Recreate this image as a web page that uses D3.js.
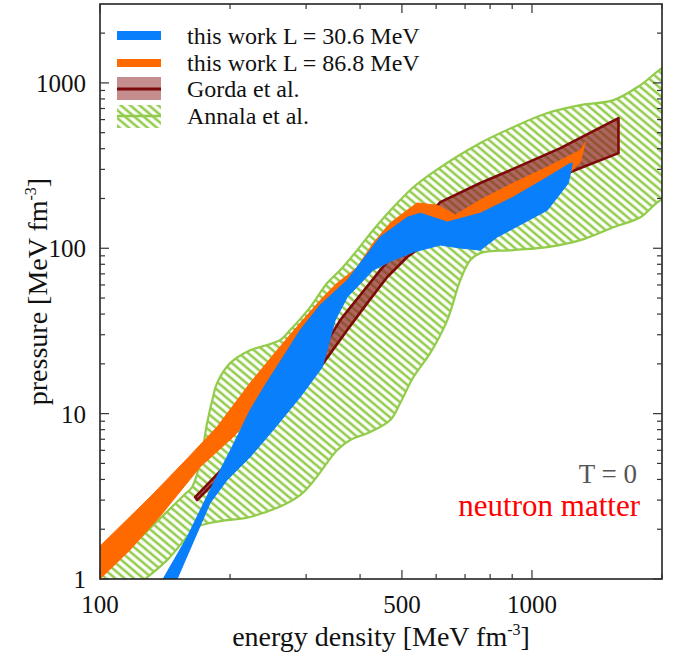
<!DOCTYPE html>
<html>
<head>
<meta charset="utf-8">
<script src="https://cdn.jsdelivr.net/npm/d3@7"></script>
<style>
  body { margin: 0; background: #fff; }
  svg { display: block; }
  text { font-family: "Liberation Serif", "Times New Roman", serif; }
</style>
</head>
<body>
<svg id="chart" width="683" height="655"></svg>
<script>
// Equation-of-state bands: [energy density (MeV fm^-3), pressure (MeV fm^-3)]

// Annala et al. band (closed outline)
const annalaBand = [
  [97, 0.97], [100, 1.03], [123.8, 1.77], [155.7, 3.18], [163.4, 3.60], [170.4, 5.03],
  [177.0, 8.77], [182.7, 12.6], [186.6, 15.3], [200.1, 20.2], [222.6, 24.2], [243.8, 26.0],
  [261.3, 27.9], [275.5, 32.0], [306.6, 44.1], [335.7, 61.6], [359.9, 73.8], [394.0, 97.5],
  [429.1, 129], [477.4, 177], [531.2, 234], [591.1, 289], [759.4, 433], [905.6, 540],
  [1085.6, 657], [1294.6, 734], [1544, 787], [1783, 970], [2000, 1229], [2150, 1330],
  [2150, 185], [2000, 196], [1783, 154], [1544, 134], [1294.6, 112], [1085.6, 101.7],
  [905.6, 97.5], [759.4, 93.5], [720.0, 84.9], [682.6, 64.2], [636.8, 36.8], [581.7, 23.3],
  [531.2, 16.6], [495.6, 11.6], [469.8, 9.15], [422.3, 7.74], [379.6, 6.92], [354.2, 6.03],
  [290.7, 3.22], [222.6, 2.37], [196.9, 2.27], [179.8, 2.18], [167.8, 2.06], [143.0, 1.30],
  [127.1, 1.0], [120, 0.9], [97, 0.9]
];

// Gorda et al. band (closed outline)
const gordaBand = [
  [166.0, 3.13], [222.6, 6.92], [290.7, 14.9], [359.9, 36.8], [445.4, 73.8], [522.7, 120],
  [613.6, 190], [759.4, 248], [891.2, 297], [1163.6, 403], [1586, 613],
  [1586, 376], [1227.5, 289], [940.0, 219], [720.0, 152], [581.7, 112], [514.4, 88.5],
  [462.4, 67.0], [415.6, 46.6], [373.6, 32.0], [328.7, 20.2], [290.7, 13.3], [251.7, 8.53],
  [222.6, 6.03], [200.1, 4.56], [179.8, 3.60], [167.8, 3.00]
];

// This work, L = 86.8 MeV: envelope of the EoS ensemble
const bandL868 = [
  [97.4, 1.46], [100, 1.58], [130.6, 3.13], [155.7, 5.03], [186.6, 8.30], [222.6, 15.3],
  [257.1, 24.2], [290.7, 35.3], [328.7, 50.7], [354.2, 61.6], [379.6, 70.8], [394.0, 76.9],
  [429.1, 107.5], [469.8, 142], [514.4, 170], [542.7, 188], [603.9, 182], [664.6, 159],
  [759.4, 196], [905.6, 248], [1085.6, 310], [1294.6, 392], [1329.6, 439],
  [1294.6, 332], [1227.5, 289], [1085.6, 238], [905.6, 182], [759.4, 144], [647.1, 132.5],
  [551.4, 132.5], [495.6, 115.3], [422.3, 82.5], [359.9, 50.0], [306.6, 29.9], [261.3, 14.9],
  [231.1, 10.5], [203.3, 7.22], [170.4, 4.75], [137.8, 2.40], [117.3, 1.50], [100, 1.0],
  [97.4, 0.92]
];

// This work, L = 30.6 MeV: envelope of the EoS ensemble
const bandL306 = [
  [137.8, 0.86], [140.0, 1.0], [159.1, 1.79], [179.8, 3.45], [203.3, 6.46], [222.6, 10.5],
  [241.2, 14.9], [265.5, 22.0], [290.7, 32.0], [323.4, 45.4], [373.6, 64.2], [445.4, 117],
  [514.4, 154], [551.4, 163], [636.8, 144], [759.4, 163], [905.6, 204], [1085.6, 269],
  [1227.5, 327], [1240.6, 327],
  [1214.3, 248], [1085.6, 170], [955.2, 142], [831.6, 117], [759.4, 97.5], [682.6, 100.3],
  [613.6, 104.5], [531.2, 94.8], [477.4, 84.9], [429.1, 73.8], [373.6, 50.7], [350.4, 36.8],
  [326.9, 19.1], [290.7, 12.6], [251.7, 7.96], [222.6, 5.47], [196.9, 3.97], [179.8, 2.88],
  [167.8, 1.90], [150.8, 1.0], [148.4, 0.86]
];

const xDomain = [100, 2000];
const yDomain = [1, 3000];
const xMajorTicks = [100, 500, 1000];
const xMinorTicks = [200, 300, 400, 600, 700, 800, 900, 2000];
const yMajorTicks = [1, 10, 100, 1000];
const yMinorTicks = [2, 3, 4, 5, 6, 7, 8, 9, 20, 30, 40, 50, 60, 70, 80, 90,
                     200, 300, 400, 500, 600, 700, 800, 900, 2000];

const legendLabels = ["this work L = 30.6 MeV", "this work L = 86.8 MeV", "Gorda et al.", "Annala et al."];

const colors = {
  blue: "#0a7ffb",
  orange: "#ff6a00",
  green: "#93cc4c",
  gordaLine: "#7d0a0a",
  gordaFill: "rgba(140, 28, 28, 0.68)",
  gordaLegendFill: "rgba(140, 28, 28, 0.5)"
};

const svg = d3.select("#chart");
const plot = { left: 100, right: 662, top: 4, bottom: 579 };

const x = d3.scaleLog().domain(xDomain).range([plot.left, plot.right]);
const y = d3.scaleLog().domain(yDomain).range([plot.bottom, plot.top]);

const defs = svg.append("defs");
defs.append("clipPath").attr("id", "plotClip")
  .append("rect")
  .attr("x", plot.left).attr("y", plot.top)
  .attr("width", plot.right - plot.left).attr("height", plot.bottom - plot.top);

const hatch = defs.append("pattern")
  .attr("id", "hatch")
  .attr("patternUnits", "userSpaceOnUse")
  .attr("width", 6).attr("height", 6)
  .attr("patternTransform", "rotate(-50)");
hatch.append("line")
  .attr("x1", 3).attr("y1", -1).attr("x2", 3).attr("y2", 7)
  .attr("stroke", colors.green).attr("stroke-width", 2.6);

const outline = d3.line()
  .x(d => x(d[0]))
  .y(d => y(d[1]))
  .curve(d3.curveLinearClosed);
const smoothOutline = d3.line()
  .x(d => x(d[0]))
  .y(d => y(d[1]))
  .curve(d3.curveCatmullRomClosed.alpha(0.5));

const g = svg.append("g").attr("clip-path", "url(#plotClip)");

// Annala et al.
g.append("path").attr("d", smoothOutline(annalaBand))
  .attr("fill", "url(#hatch)")
  .attr("stroke", colors.green).attr("stroke-width", 2.2)
  .attr("stroke-linejoin", "round");

// Gorda et al.
g.append("path").attr("d", outline(gordaBand))
  .attr("fill", colors.gordaFill)
  .attr("stroke", colors.gordaLine).attr("stroke-width", 2.6)
  .attr("stroke-linejoin", "round");

// this work, L = 86.8 MeV
g.append("path").attr("d", outline(bandL868))
  .attr("fill", colors.orange)
  .attr("stroke", colors.orange).attr("stroke-width", 1)
  .attr("stroke-linejoin", "round");

// this work, L = 30.6 MeV
g.append("path").attr("d", outline(bandL306))
  .attr("fill", colors.blue)
  .attr("stroke", colors.blue).attr("stroke-width", 1)
  .attr("stroke-linejoin", "round");

// Frame
svg.append("rect")
  .attr("x", plot.left).attr("y", plot.top)
  .attr("width", plot.right - plot.left).attr("height", plot.bottom - plot.top)
  .attr("fill", "none").attr("stroke", "#222").attr("stroke-width", 1.6);

// Inward ticks on all four sides
const ticks = svg.append("g").attr("stroke", "#333").attr("stroke-width", 1.2);
function xTick(v, len) {
  ticks.append("line").attr("x1", x(v)).attr("x2", x(v))
    .attr("y1", plot.bottom).attr("y2", plot.bottom - len);
  ticks.append("line").attr("x1", x(v)).attr("x2", x(v))
    .attr("y1", plot.top).attr("y2", plot.top + len);
}
function yTick(v, len) {
  ticks.append("line").attr("y1", y(v)).attr("y2", y(v))
    .attr("x1", plot.left).attr("x2", plot.left + len);
  ticks.append("line").attr("y1", y(v)).attr("y2", y(v))
    .attr("x1", plot.right).attr("x2", plot.right - len);
}
xMajorTicks.forEach(v => xTick(v, 9));
xMinorTicks.forEach(v => xTick(v, 5));
yMajorTicks.forEach(v => yTick(v, 9));
yMinorTicks.forEach(v => yTick(v, 5));

// Tick labels
const fmt = d3.format("d");
svg.append("g").selectAll("text").data(xMajorTicks).join("text")
  .attr("x", d => x(d)).attr("y", 613)
  .attr("text-anchor", "middle")
  .attr("font-size", 25).attr("fill", "#111")
  .text(fmt);
svg.append("g").selectAll("text").data(yMajorTicks).join("text")
  .attr("x", 86).attr("y", d => y(d) + 9)
  .attr("text-anchor", "end")
  .attr("font-size", 25).attr("fill", "#111")
  .text(fmt);

// Axis titles
const xTitle = svg.append("text")
  .attr("x", (plot.left + plot.right) / 2).attr("y", 646)
  .attr("text-anchor", "middle").attr("font-size", 28).attr("fill", "#111");
xTitle.append("tspan").text("energy density [MeV fm");
xTitle.append("tspan").attr("dy", -11).attr("font-size", 16).text("-3");
xTitle.append("tspan").attr("dy", 11).text("]");

const yTitle = svg.append("text")
  .attr("transform", `translate(47,${(plot.top + plot.bottom) / 2}) rotate(-90)`)
  .attr("text-anchor", "middle").attr("font-size", 28).attr("fill", "#111");
yTitle.append("tspan").text("pressure [MeV fm");
yTitle.append("tspan").attr("dy", -11).attr("font-size", 16).text("-3");
yTitle.append("tspan").attr("dy", 11).text("]");

// Legend
const legend = svg.append("g");
const lx = 117, lw = 44, textX = 187, rowY = [36, 63, 89, 116];
legend.append("rect").attr("x", lx).attr("y", rowY[0] - 5).attr("width", lw).attr("height", 9)
  .attr("fill", colors.blue);
legend.append("rect").attr("x", lx).attr("y", rowY[1] - 4).attr("width", lw).attr("height", 8)
  .attr("fill", colors.orange);
legend.append("rect").attr("x", lx).attr("y", rowY[2] - 12).attr("width", lw).attr("height", 23)
  .attr("fill", colors.gordaLegendFill);
legend.append("line").attr("x1", lx).attr("x2", lx + lw).attr("y1", rowY[2]).attr("y2", rowY[2])
  .attr("stroke", colors.gordaLine).attr("stroke-width", 3);
legend.append("rect").attr("x", lx).attr("y", rowY[3] - 11).attr("width", lw).attr("height", 23)
  .attr("fill", "url(#hatch)");
legend.append("line").attr("x1", lx).attr("x2", lx + lw).attr("y1", rowY[3]).attr("y2", rowY[3])
  .attr("stroke", colors.green).attr("stroke-width", 2.5);
legend.selectAll("text.lbl").data(legendLabels).join("text")
  .attr("class", "lbl")
  .attr("x", textX).attr("y", (d, i) => rowY[i] + 8)
  .attr("font-size", 24).attr("fill", "#111")
  .text(d => d);

// Annotations
svg.append("text").attr("x", 637).attr("y", 483)
  .attr("text-anchor", "end").attr("font-size", 27).attr("fill", "#555")
  .text("T = 0");
svg.append("text").attr("x", 640).attr("y", 516)
  .attr("text-anchor", "end").attr("font-size", 31).attr("fill", "#ff0000")
  .text("neutron matter");
</script>
</body>
</html>
